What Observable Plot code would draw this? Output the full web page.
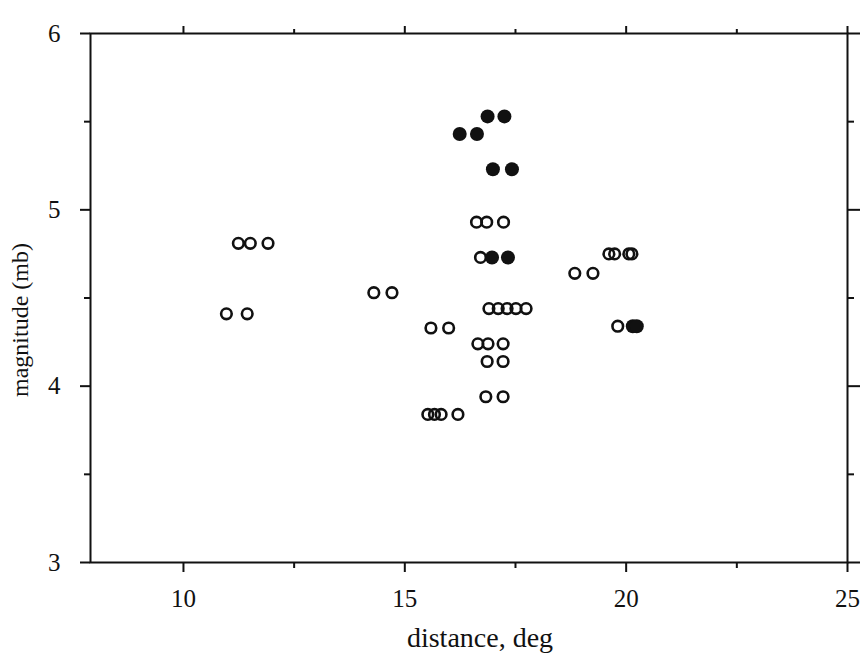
<!DOCTYPE html>
<html><head><meta charset="utf-8">
<script src="https://cdn.jsdelivr.net/npm/d3@7"></script>
<script src="https://cdn.jsdelivr.net/npm/@observablehq/plot@0.6"></script>
<style>
body{margin:0;background:#fff}
#chart svg{overflow:visible}
#chart svg text{font-family:'Liberation Serif','DejaVu Serif',serif;font-size:25px;fill:#111}
#chart g[aria-label="x-axis label"] text{font-size:28px}
#chart g[aria-label="y-axis label"] text{font-size:24px}
</style>
</head><body><div id="chart"></div>
<script>
// Open circles
const openDistance = [11.24, 11.51, 11.91, 10.97, 11.44, 14.30, 14.71, 15.59, 15.99,
  15.52, 15.67, 15.82, 16.20,
  16.62, 16.85, 17.23, 16.71,
  16.90, 17.11, 17.31, 17.51, 17.74,
  16.65, 16.88, 17.22, 16.86, 17.22, 16.83, 17.22,
  18.84, 19.25, 19.61, 19.74, 20.06, 20.13, 19.81];
const openMagnitude = [4.81, 4.81, 4.81, 4.41, 4.41, 4.53, 4.53, 4.33, 4.33,
  3.84, 3.84, 3.84, 3.84,
  4.93, 4.93, 4.93, 4.73,
  4.44, 4.44, 4.44, 4.44, 4.44,
  4.24, 4.24, 4.24, 4.14, 4.14, 3.94, 3.94,
  4.64, 4.64, 4.75, 4.75, 4.75, 4.75, 4.34];
// Filled circles
const filledDistance = [16.87, 17.25, 16.24, 16.63, 16.99, 17.42, 16.97, 17.33, 20.15, 20.24];
const filledMagnitude = [5.53, 5.53, 5.43, 5.43, 5.23, 5.23, 4.73, 4.73, 4.34, 4.34];

const xMajor = [10, 15, 20, 25];
const xMinor = [12.5, 17.5, 22.5];
const yMajor = [3, 4, 5, 6];
const yMinor = [3.5, 4.5, 5.5];

const openData = openDistance.map((d, i) => ({d, m: openMagnitude[i]}));
const filledData = filledDistance.map((d, i) => ({d, m: filledMagnitude[i]}));
const blank = () => "";
const intFmt = d3.format("d");

const chart = Plot.plot({
  width: 864, height: 656,
  marginLeft: 90, marginRight: 17, marginTop: 33, marginBottom: 94,
  style: {background: "#fff", color: "#111"},
  x: {domain: [7.9, 25]},
  y: {domain: [3, 6]},
  marks: [
    Plot.frame({stroke: "#111", strokeWidth: 2}),
    Plot.axisX({anchor: "bottom", ticks: xMajor, tickFormat: intFmt, tickSize: 10, tickPadding: 17, strokeWidth: 2, label: "distance, deg", labelArrow: "none", labelAnchor: "center", labelOffset: 84}),
    Plot.axisX({anchor: "bottom", ticks: xMinor, tickSize: 6, tickFormat: blank, strokeWidth: 2, label: null}),
    Plot.axisX({anchor: "top", ticks: xMajor, tickSize: 8, tickFormat: blank, strokeWidth: 2, label: null}),
    Plot.axisX({anchor: "top", ticks: xMinor, tickSize: 5, tickFormat: blank, strokeWidth: 2, label: null}),
    Plot.axisY({anchor: "left", ticks: yMajor, tickFormat: intFmt, tickSize: 10, tickPadding: 20, strokeWidth: 2, label: "magnitude (mb)", labelArrow: "none", labelAnchor: "center", labelOffset: 80}),
    Plot.axisY({anchor: "left", ticks: yMinor, tickSize: 6, tickFormat: blank, strokeWidth: 2, label: null}),
    Plot.axisY({anchor: "right", ticks: yMajor, tickSize: 12, tickFormat: blank, strokeWidth: 2, label: null}),
    Plot.axisY({anchor: "right", ticks: yMinor, tickSize: 6, tickFormat: blank, strokeWidth: 2, label: null}),
    Plot.dot(openData, {x: "d", y: "m", r: 5.3, stroke: "#111", strokeWidth: 2.6, fill: "none"}),
    Plot.dot(filledData, {x: "d", y: "m", r: 7, fill: "#111", stroke: "none"})
  ]
});
document.getElementById("chart").appendChild(chart);
d3.select(chart).selectAll('g[aria-label="x-axis label"] text').attr("dx", 11);
d3.select(chart).selectAll('g[aria-label="y-axis label"] text').attr("dx", -22);
</script>
</body></html>
